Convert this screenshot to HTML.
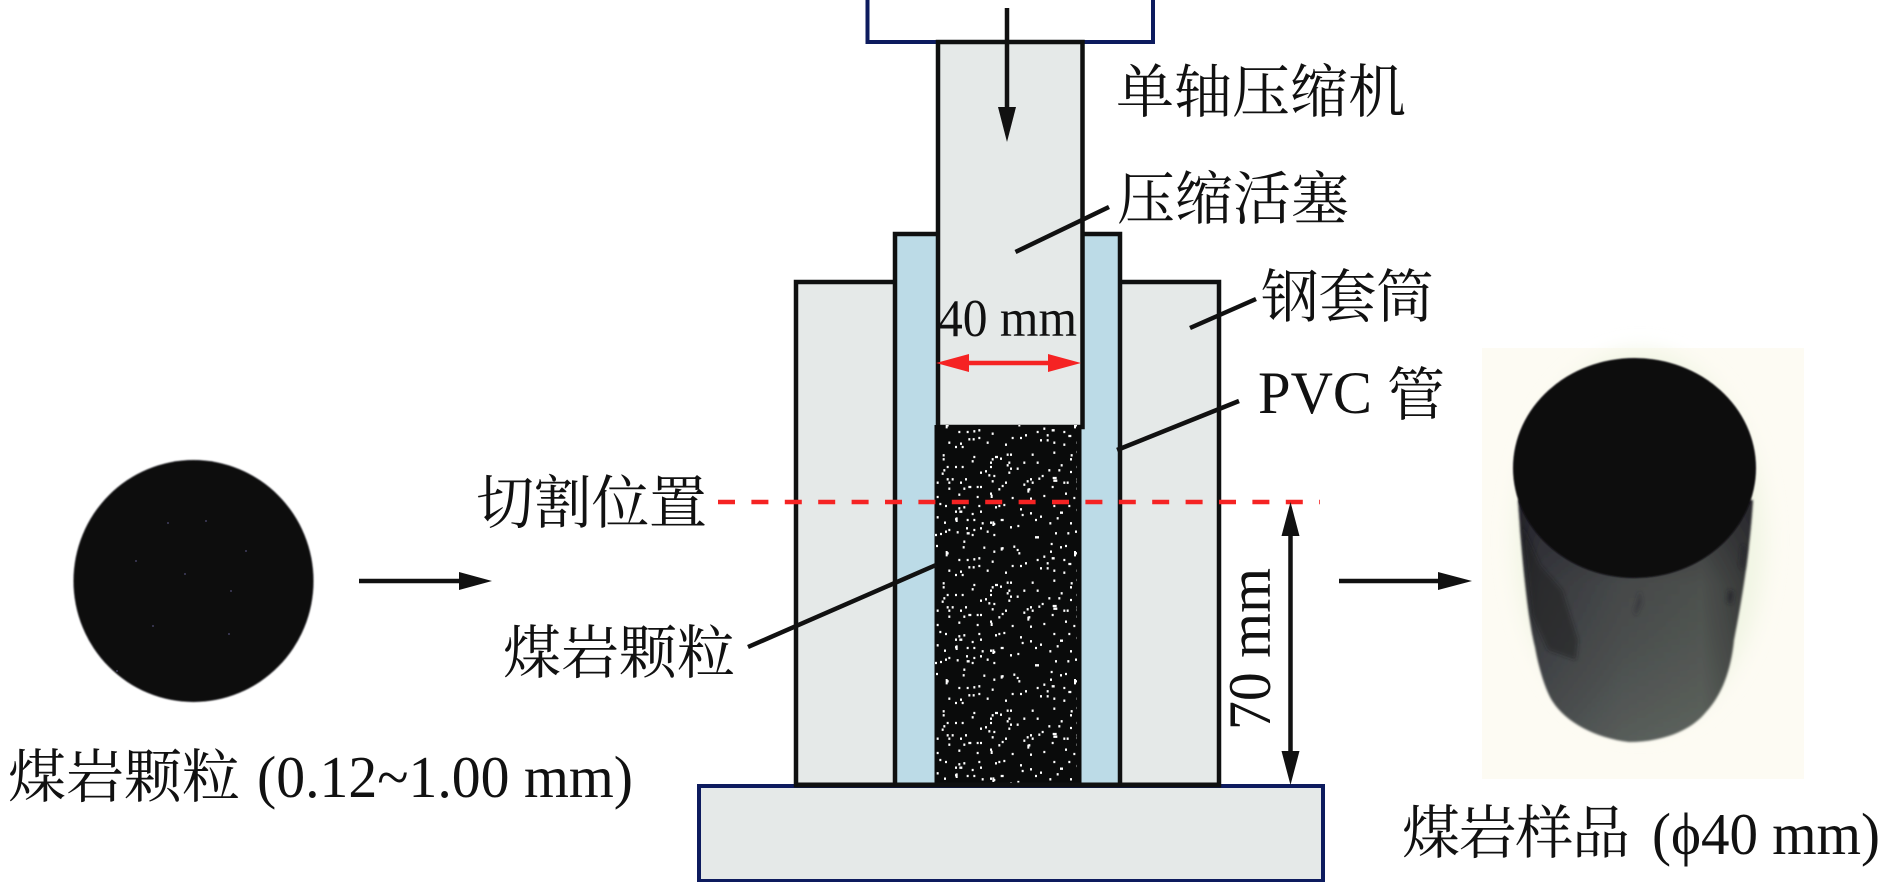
<!DOCTYPE html>
<html lang="zh">
<head>
<meta charset="utf-8">
<title>煤岩样品制备</title>
<style>
html,body{margin:0;padding:0;background:#fff;width:1890px;height:882px;overflow:hidden}
svg{display:block}
text{fill:#111}
.c{font-family:"Liberation Serif","Noto Serif CJK SC",serif;font-size:58px;font-weight:400}
.l{font-family:"Liberation Serif","Noto Serif CJK SC",serif;font-weight:400}
</style>
</head>
<body>
<svg xmlns="http://www.w3.org/2000/svg" width="1890" height="882" viewBox="0 0 1890 882">
<defs>
<pattern id="sp" x="930" y="500" width="147" height="128" patternUnits="userSpaceOnUse">
<g transform="scale(.33333)">
<path fill="none" stroke="#fff" stroke-width="7" d="M28 12h6M45 18h6M85 25h6M100 22h6M145 18h6M150 35h6M195 22h6M205 18h6M220 15h6M270 28h6M300 40h6M330 50h6M370 18h6M390 38h9M415 18h6M440 30h6
M75 35h6M88 35h9M125 42h6M110 60h6M130 60h6M75 58h6M42 68h6M20 52h6M155 70h6M180 68h6M190 72h6M212 60h9M240 82h6M262 78h6M275 45h6M315 60h6M358 70h6M420 70h6M445 65h6M380 55h6
M45 95h6M30 102h6M55 90h6M80 97h6M108 85h6M110 100h9M130 90h6M150 85h6M170 95h6M190 105h6M315 112h12M375 100h6M412 100h6M435 95h6M15 105h6M125 105h6
M100 125h6M18 138h6M98 142h6M160 143h6M215 145h6M250 140h6M260 150h6M265 160h6M362 132h6M405 138h6M390 142h6M50 160h6M190 155h6M435 160h6M360 155h6
M110 180h6M130 178h6M145 175h6M85 180h6M185 185h6M75 225h6M55 212h6M90 215h6M95 225h6M115 202h6M128 202h6M145 198h6M170 212h6M225 218h6M245 198h6M270 198h6M285 190h6M320 180h6M340 170h6M350 190h6M330 205h6M350 205h6M365 175h9M400 180h6M415 192h9M400 218h6M440 212h6M370 212h6
M38 250h6M38 262h6M130 255h6M125 268h6M185 262h6M195 255h9M210 260h6M230 248h6M240 248h6M305 248h6M370 242h6M440 240h6M422 250h6M420 262h6
M180 272h6M235 272h6M230 280h6M280 272h6M320 272h6M180 285h6M50 285h6M75 285h6M95 285h6M240 290h6M260 290h6M392 280h6M440 285h6M355 295h6M385 295h6M420 300h6M35 305h6M40 295h6M150 302h6M165 298h6M235 302h6M175 310h6M190 312h6M335 312h6M325 320h6M300 322h6M290 328h6M305 332h6M50 322h6M65 322h6M368 318h12M370 326h12M105 322h6M440 322h6M450 322h6
M20 332h6M55 332h6M90 332h6M185 328h6M225 332h6M400 332h6M410 332h6M440 330h6M280 338h6M115 345h9M140 345h6M150 345h6M215 342h6M100 350h6M55 350h6M205 352h6M295 352h6M440 350h6M365 345h6M180 365h6M245 378h6M300 380h6M140 375h6M20 375h6M85 368h6M340 372h6M405 365h6M430 378h6"/>
<path fill="none" stroke="#fff" stroke-width="6" d="M50 153v16M215 142v10M435 153v16M80 52v14M190 64v14M295 350v12M185 368v10"/>
</g>
</pattern>
<filter id="bl" x="-5%" y="-5%" width="110%" height="110%"><feGaussianBlur stdDeviation="0.8"/></filter>
<filter id="bl2" x="-20%" y="-20%" width="140%" height="140%"><feGaussianBlur stdDeviation="1.1"/></filter>
<filter id="bl3" x="-30%" y="-30%" width="160%" height="160%"><feGaussianBlur stdDeviation="10"/></filter>
<filter id="bl4" x="-30%" y="-30%" width="160%" height="160%"><feGaussianBlur stdDeviation="2.2"/></filter>
<linearGradient id="bd" x1="0" y1="0" x2="1" y2="0">
<stop offset="0" stop-color="#2a2c2e"/>
<stop offset=".1" stop-color="#3c3e42"/>
<stop offset=".45" stop-color="#4d5150"/>
<stop offset=".78" stop-color="#555a55"/>
<stop offset="1" stop-color="#383a38"/>
</linearGradient>
<linearGradient id="bv" x1="0" y1="0" x2="0" y2="1">
<stop offset="0" stop-color="#1d1a24" stop-opacity=".6"/>
<stop offset=".35" stop-color="#1d1a24" stop-opacity=".15"/>
<stop offset="1" stop-color="#7f887f" stop-opacity=".22"/>
</linearGradient>
</defs>

<!-- left coal disc -->
<ellipse cx="193.500" cy="581" rx="120" ry="121" fill="#08080f" filter="url(#bl)"/>
<g fill="#34324a"><rect x="167" y="522" width="2" height="2"/><rect x="184" y="573" width="2" height="2"/><rect x="228" y="633" width="2" height="2"/><rect x="152" y="625" width="2" height="2"/><rect x="116" y="670" width="2" height="2"/><rect x="245" y="550" width="2" height="2"/><rect x="205" y="520" width="2" height="2"/><rect x="230" y="590" width="2" height="2"/><rect x="135" y="560" width="2" height="2"/></g>

<!-- top frame -->
<path d="M867.500 0V42H1153V0" fill="none" stroke="#0d1b5e" stroke-width="4"/>

<!-- base -->
<rect x="699" y="786" width="624" height="95" fill="#e5e9e8" stroke="#0d1b5e" stroke-width="4"/>

<!-- steel sleeve -->
<rect x="796" y="282" width="423" height="503" fill="#e5e9e8" stroke="#0f1010" stroke-width="4.500"/>
<!-- PVC -->
<rect x="895" y="234" width="225" height="551" fill="#bcdbe7" stroke="#0f1010" stroke-width="4.500"/>
<!-- piston -->
<rect x="938" y="42" width="144.500" height="385" fill="#e5e9e8" stroke="#0f1010" stroke-width="4.500"/>
<!-- coal column -->
<rect x="934.500" y="425" width="147" height="360" fill="#0a0b0b"/>
<rect x="934.500" y="425" width="147" height="360" fill="url(#sp)"/>
<line x1="794" y1="785" x2="1221" y2="785" stroke="#0f1010" stroke-width="5"/>

<!-- down arrow -->
<line x1="1007" y1="8" x2="1007" y2="110" stroke="#111" stroke-width="4.500"/>
<path d="M998 107H1016L1007 142Z" fill="#111"/>

<!-- red dim -->
<line x1="960" y1="363" x2="1060" y2="363" stroke="#f52323" stroke-width="4.500"/>
<path d="M936 363L969 354V372Z M1081 363L1048 354V372Z" fill="#f52323"/>

<!-- leaders -->
<g stroke="#111" stroke-width="4.500" fill="none">
<line x1="1109" y1="207" x2="1015.500" y2="252"/>
<line x1="1256" y1="299" x2="1190" y2="328"/>
<line x1="1239" y1="401" x2="1117" y2="450"/>
<line x1="936" y1="565" x2="748" y2="647"/>
</g>

<!-- cut line -->
<line x1="718" y1="502" x2="1320" y2="502" stroke="#f52323" stroke-width="4.500" stroke-dasharray="17 16.400"/>

<!-- 70 mm dim -->
<line x1="1290.500" y1="525" x2="1290.500" y2="762" stroke="#111" stroke-width="4.500"/>
<path d="M1290.500 502L1299.500 536H1281.500Z M1290.500 785L1299.500 751H1281.500Z" fill="#111"/>

<!-- process arrows -->
<line x1="359" y1="581" x2="465" y2="581" stroke="#111" stroke-width="4.500"/>
<path d="M492 581L459 572V590Z" fill="#111"/>
<line x1="1339" y1="581" x2="1445" y2="581" stroke="#111" stroke-width="4.500"/>
<path d="M1472 581L1438 572V590Z" fill="#111"/>

<!-- photo -->
<rect x="1482" y="348" width="322" height="431" fill="#fdfbf3"/>
<ellipse cx="1640" cy="540" rx="125" ry="190" fill="#f1f5e4" filter="url(#bl3)"/>
<g filter="url(#bl2)">
<path d="M1518 500C1522 560 1528 620 1535 647C1540 675 1548 695 1553 702C1566 722 1595 738 1629 742C1660 742 1690 732 1706 712C1722 695 1731 670 1734 640C1742 600 1750 550 1753 500Z" fill="url(#bd)"/>
<path d="M1518 500C1522 560 1528 620 1535 647C1540 675 1548 695 1553 702C1566 722 1595 738 1629 742C1660 742 1690 732 1706 712C1722 695 1731 670 1734 640C1742 600 1750 550 1753 500Z" fill="url(#bv)"/>
</g>
<g filter="url(#bl4)">
<path d="M1522 525L1540 565L1562 590L1578 640L1576 660L1548 650L1532 615Z" fill="#1f1f22" opacity=".55"/>
<path d="M1728 590l6 2-2 12-5-2Z" fill="#22232a" opacity=".7"/>
<path d="M1742 545l4 2-2 22-4-2Z" fill="#22232a" opacity=".7"/>
<path d="M1640 590l2 12-6 14-2-6Z" fill="#2a2a30" opacity=".5"/>
</g>
<ellipse cx="1634.500" cy="468" rx="121.500" ry="110" fill="#08070f" filter="url(#bl)"/>

<!-- labels -->
<text class="c" x="1116" y="112" textLength="290">单轴压缩机</text>
<text class="c" x="1117" y="219" textLength="232">压缩活塞</text>
<text class="c" x="1261" y="317" textLength="173">钢套筒</text>
<text class="l" x="1258" y="413" font-size="60" textLength="114" lengthAdjust="spacingAndGlyphs">PVC</text>
<text class="c" x="1387" y="415" font-size="56">管</text>
<text class="c" x="476" y="523" textLength="231">切割位置</text>
<text class="c" x="503" y="673" textLength="232">煤岩颗粒</text>
<text class="c" x="8" y="797" textLength="232">煤岩颗粒</text>
<text class="l" x="257" y="797" font-size="59" textLength="376" lengthAdjust="spacingAndGlyphs">(0.12~1.00 mm)</text>
<text class="c" x="1402" y="853" textLength="228">煤岩样品</text>
<text class="l" x="1652" y="854" font-size="59" textLength="228" lengthAdjust="spacingAndGlyphs">(ϕ40 mm)</text>
<text class="l" x="938" y="336" font-size="53" textLength="139" lengthAdjust="spacingAndGlyphs">40 mm</text>
<text class="l" transform="translate(1270 730) rotate(-90)" font-size="60" textLength="162" lengthAdjust="spacingAndGlyphs">70 mm</text>
</svg>
</body>
</html>
